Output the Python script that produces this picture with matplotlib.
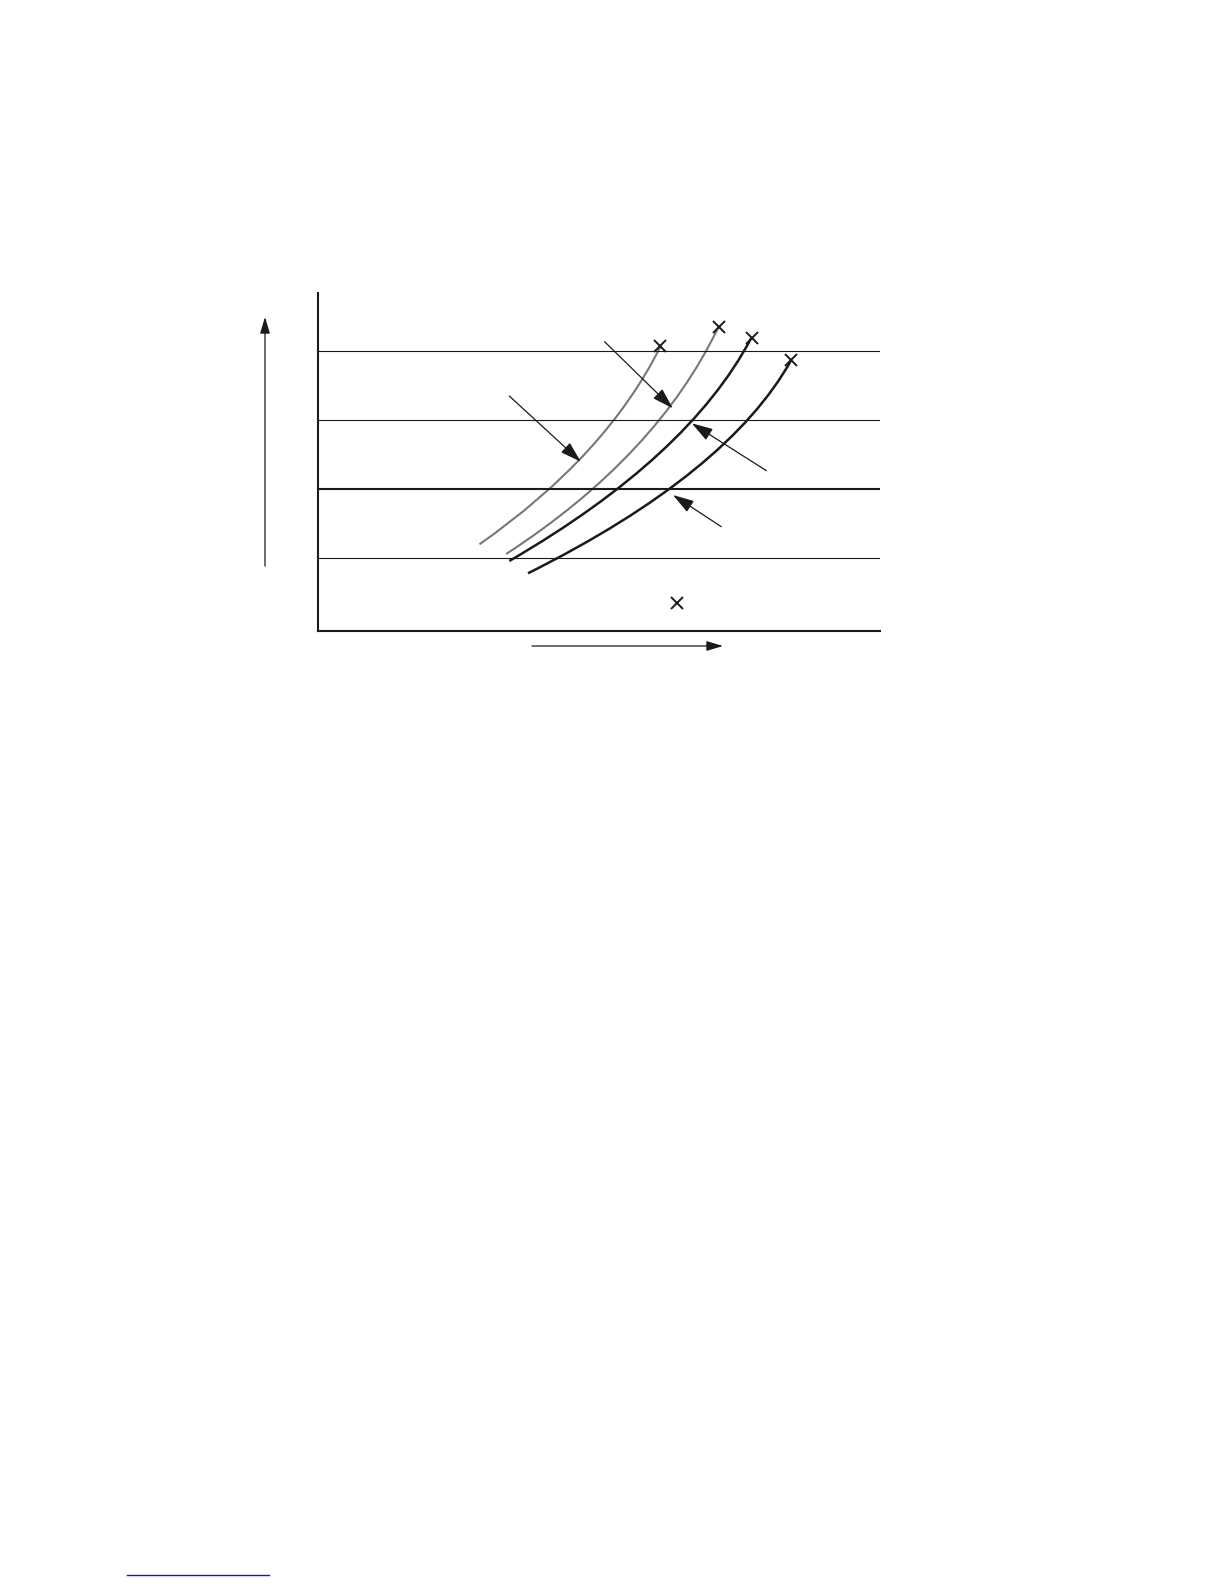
import numpy as np
import matplotlib
matplotlib.use('Agg')
import matplotlib.pyplot as plt
from matplotlib.path import Path
from matplotlib.patches import PathPatch
from matplotlib.lines import Line2D

# schematic data, axes units (origin at the axis corner)
levels = [73, 142, 211, 280.5]           # horizontal reference lines
levelWidths = [0.8, 1.5, 0.8, 0.8]

# each curve: start, bezier control, end
curveStart = [(161.5, 86.7), (188.2, 77.0), (191.3, 70.0), (210.0, 57.7)]
curveCtrl = [(287.8, 175.1), (339.1, 175.1), (370.6, 174.0), (410.5, 157.9)]
curveEnd = [(342.4, 284.3), (400.6, 304.3), (433.1, 292.7), (473.3, 271.0)]
curveColors = ['#777777', '#777777', '#1a1a1a', '#1a1a1a']
curveWidths = [1.5, 1.5, 1.8, 1.8]

# cross markers (curve end points plus the lone one)
crossX = [342.4, 400.6, 433.8, 473.3, 358.5]
crossY = [285.0, 304.3, 292.7, 271.0, 28.3]

# pointer arrows: tail -> tip
arrowTail = [(191.3, 235.0), (286.6, 289.3), (448.4, 160.3), (403.3, 104.3)]
arrowTip = [(262.8, 169.3), (354.7, 222.7), (373.8, 207.7), (355.0, 136.0)]

fig = plt.figure(figsize=(12.24, 15.84), dpi=100)
ax = fig.add_axes([318/1224, 1-631/1584, 562/1224, 338/1584])
ax.set_xlim(0, 562)
ax.set_ylim(0, 338)

for s in ['top', 'right']:
	ax.spines[s].set_visible(False)
for s in ['left', 'bottom']:
	ax.spines[s].set_linewidth(1.5)
	ax.spines[s].set_color('#1a1a1a')
ax.set_xticks([])
ax.set_yticks([])

for lv, lw in zip(levels, levelWidths):
	ax.axhline(lv, color='#1a1a1a', lw=lw)

for i in range(4):
	p = Path([curveStart[i], curveCtrl[i], curveEnd[i]],
			 [Path.MOVETO, Path.CURVE3, Path.CURVE3])
	ax.add_patch(PathPatch(p, facecolor='none', edgecolor=curveColors[i],
						   lw=curveWidths[i], capstyle='butt'))

ax.plot(crossX, crossY, 'x', color='#1a1a1a', ms=8, mew=1.4, clip_on=False)

for tail, tip in zip(arrowTail, arrowTip):
	ax.annotate('', xy=tip, xytext=tail, annotation_clip=False,
				arrowprops=dict(arrowstyle='-|>,head_length=1.3,head_width=0.4',
								color='#1a1a1a', lw=0.9, shrinkA=0, shrinkB=0))

# axis direction arrows
ax.annotate('', xy=(-53, 314), xytext=(-53, 65), annotation_clip=False,
			arrowprops=dict(arrowstyle='-|>,head_length=1.0,head_width=0.3',
							color='#1a1a1a', lw=0.9, shrinkA=0, shrinkB=0))
ax.annotate('', xy=(405, -15), xytext=(214, -15), annotation_clip=False,
			arrowprops=dict(arrowstyle='-|>,head_length=1.0,head_width=0.3',
							color='#1a1a1a', lw=0.9, shrinkA=0, shrinkB=0))

# footnote rule
fig.add_artist(Line2D([127/1224, 269/1224], [1-1575/1584, 1-1575/1584],
					  color='#1c1c8c', lw=1.0))

fig.savefig('out.png', dpi=100)
